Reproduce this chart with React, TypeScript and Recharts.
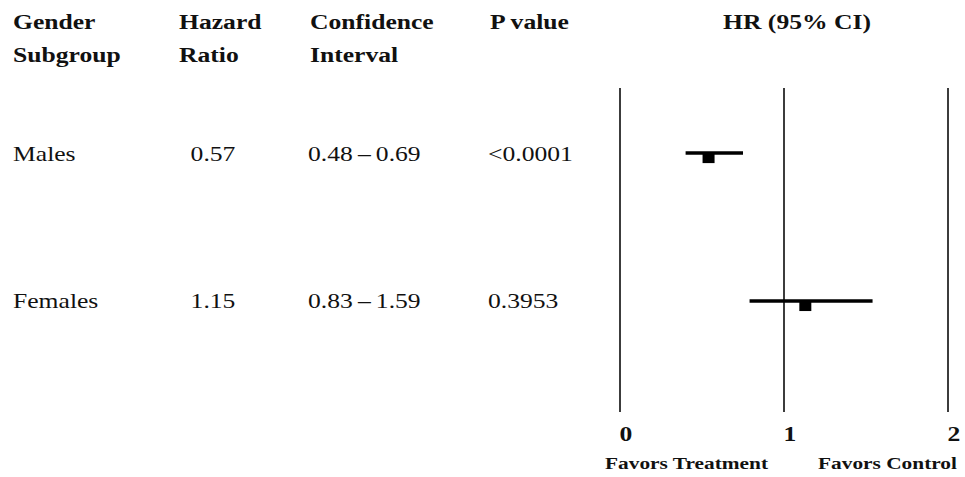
import React from "react";
import {
  ComposedChart, Scatter, ErrorBar, XAxis, YAxis, ReferenceLine,
} from "recharts";

const W = 965;
const H = 477;

// table columns
const HEADERS = [
  { lines: ["Gender", "Subgroup"], x: 13 },
  { lines: ["Hazard", "Ratio"], x: 179 },
  { lines: ["Confidence", "Interval"], x: 310 },
  { lines: ["P value"], x: 490 },
];

const SUBGROUPS = ["Males", "Females"];
const HR_TEXT = ["0.57", "1.15"];
const CI_TEXT = ["0.48\u2009–\u20090.69", "0.83\u2009–\u20091.59"];
const P_TEXT = ["<0.0001", "0.3953"];

// plotted marks, as drawn in the figure
const ROW_POS = [2, 1];
const HR_POINT = [0.54, 1.13];
const CI_LOW = [0.4, 0.79];
const CI_HIGH = [0.75, 1.54];

const X_TICKS = [0, 1, 2];

const rows = SUBGROUPS.map((name, i) => ({
  name,
  row: ROW_POS[i],
  hr: HR_POINT[i],
  err: [HR_POINT[i] - CI_LOW[i], CI_HIGH[i] - HR_POINT[i]],
}));

const FONT = '"Liberation Serif", "Times New Roman", serif';
const SX = 1.22;

function T({ x, y, children, size = 21, bold = false, anchor = "start" }: any) {
  return (
    <text
      transform={`translate(${x},${y}) scale(${SX},1)`}
      fontFamily={FONT}
      fontSize={size}
      fontWeight={bold ? 700 : 400}
      textAnchor={anchor}
      fill="#111"
    >
      {children}
    </text>
  );
}

function PointBox(props: any) {
  const { cx, cy } = props;
  return <rect x={cx - 6} y={cy - 1} width={12} height={11} fill="#000" />;
}

function TickLabel(props: any) {
  const { x, y, payload } = props;
  return <T x={x + 6} y={y + 21} bold anchor="middle">{payload.value}</T>;
}

const ROW_BASE = [161, 308];

export default function App() {
  return (
    <div style={{ position: "absolute", left: 0, top: 0, width: W, height: H, background: "#fff" }}>
      <ComposedChart width={W} height={H} data={rows} margin={{ top: 88, right: 17, left: 620, bottom: 0 }}>
        <XAxis
          type="number"
          dataKey="hr"
          domain={[0, 2]}
          ticks={X_TICKS}
          interval={0}
          axisLine={false}
          tickLine={false}
          height={65}
          tick={<TickLabel />}
        />
        <YAxis type="number" dataKey="row" domain={[0.25, 2.44]} hide />
        {X_TICKS.map((t) => (
          <ReferenceLine key={t} x={t} stroke="#3c3c3c" strokeWidth={2} ifOverflow="extendDomain" />
        ))}
        <Scatter data={rows} dataKey="row" shape={<PointBox />} isAnimationActive={false}>
          <ErrorBar dataKey="err" direction="x" width={0} stroke="#000" strokeWidth={3.5} />
        </Scatter>
      </ComposedChart>

      <svg width={W} height={H} style={{ position: "absolute", left: 0, top: 0, pointerEvents: "none" }}>
        {HEADERS.map((h) =>
          h.lines.map((l, j) => (
            <T key={l} x={h.x} y={29 + j * 33} bold>{l}</T>
          ))
        )}
        <T x={797} y={29} bold anchor="middle">HR (95% CI)</T>
        {SUBGROUPS.map((s, i) => (
          <g key={s}>
            <T x={13} y={ROW_BASE[i]}>{s}</T>
            <T x={213} y={ROW_BASE[i]} anchor="middle">{HR_TEXT[i]}</T>
            <T x={308} y={ROW_BASE[i]}>{CI_TEXT[i]}</T>
            <T x={488} y={ROW_BASE[i]}>{P_TEXT[i]}</T>
          </g>
        ))}
        <T x={605} y={469} size={17.5} bold>Favors Treatment</T>
        <T x={818} y={469} size={17.5} bold>Favors Control</T>
      </svg>
    </div>
  );
}
